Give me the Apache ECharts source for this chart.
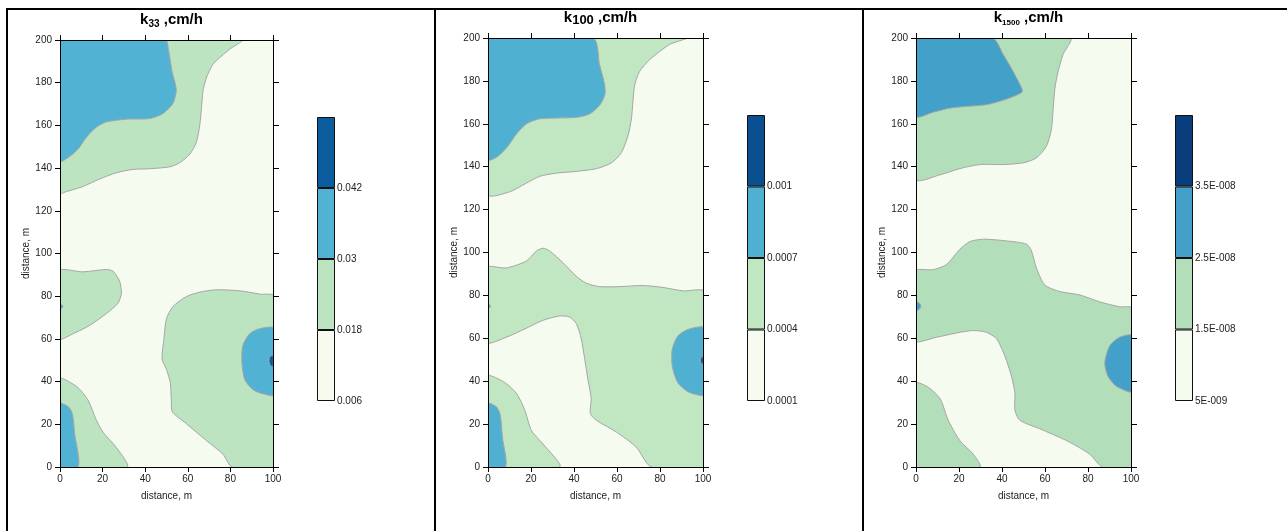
<!DOCTYPE html>
<html>
<head>
<meta charset="utf-8">
<script src="https://cdn.jsdelivr.net/npm/echarts@6/dist/echarts.min.js"></script>
<style>
html,body{margin:0;padding:0;background:#fff;}
#main{width:1287px;height:531px;}
</style>
</head>
<body>
<div id="main"></div>
<script>
// contour regions, points in metres [x, y]; corners a bit outside the plot, clipped away
// k33
var k33TopLeftGreen = [[-2,202],[85.4,200],[79.7,195.7],[71.8,188.6],[68.7,182.2],[67.1,175.9],[66.4,167.9],[65.6,160],[64,152],[60.9,146.5],[56.2,142.5],[51.5,140.6],[42.1,139.7],[34.3,139.4],[26.4,137.8],[18.6,134.9],[10.8,131.4],[3,129],[0,128.3]];
var k33TopLeftBlue = [[-2,202],[49.5,200],[51,195],[52.6,185.4],[54.6,176.7],[53,170.3],[48.4,165.6],[42.1,163.2],[31.1,162.9],[21.8,161.6],[17.1,159.2],[12.4,154.4],[8.5,148.9],[3.8,144.9],[0,143.3]];
var k33LeftGreen = [[-1,91.7],[10.8,91.4],[21.8,92.5],[24.9,91.7],[28,87],[28.8,81.4],[27.2,76.7],[21.8,71.9],[13.9,66.3],[7.7,63.2],[-1,60]];
var k33LeftBlueDot = [[0,76.6],[1.2,75.6],[1.4,75],[0,74]];
var k33BottomGreen = [[-1,41.3],[7.7,37.8],[13.1,31.4],[17.1,21.9],[20.2,16.3],[26.4,9.2],[31.5,0],[-2,-2]];
var k33BottomBlue = [[-1,29.8],[3.8,28.3],[5.8,25],[6.9,15.6],[8.5,0],[-2,-2]];
var k33RightGreen = [[101,79.8],[93.7,81],[84.4,82.5],[73.4,83],[65.6,81.9],[59.3,79.8],[53,75.1],[50,69.5],[48.8,60],[47.9,50.5],[50,45.7],[51.8,39.4],[52.3,30.6],[52.7,25.9],[59.3,20.3],[68.7,12.4],[76.5,6],[80.8,0],[102,-2]];
var k33RightBlue = [[101,64.8],[93.7,64.8],[89,62.4],[85.8,56.8],[85.4,48.9],[86.7,41],[90.6,36.2],[95.3,34.3],[101,33.8]];
var k33RightDarkDot = [[100,52.4],[98.6,51.6],[98.1,49.7],[98.6,47.8],[100,46.8]];
// k100
var k100TopLeftGreen = [[-2,202],[92.2,200],[84.5,197],[75.2,189.9],[70.5,184.4],[68.2,178],[67.4,170.2],[66.7,162.3],[65.1,154.4],[62,146.5],[57.4,141.8],[50.4,139.1],[41.1,137.8],[31.8,137],[24,135.5],[17.8,132.3],[10.1,128.3],[0,127.1]];
var k100TopLeftBlue = [[-2,202],[48.8,200],[51.9,187.5],[54.3,178],[54.3,173.3],[51.9,168.6],[47.3,164.6],[41.1,163],[33.3,162.7],[24,162.3],[17.8,159.9],[13.2,155.2],[9.3,149.6],[4.7,144.9],[0,143.3]];
var k100MiddleGreen = [[-1,92.8],[8.5,92.8],[17.8,96],[22.5,100.7],[25.6,102],[28.7,100.7],[34.9,95.2],[41.1,88.9],[45.7,85.7],[51.9,84.1],[61.2,84.1],[72.1,84.6],[81.4,83.7],[90.7,82.1],[101,81.5],[102,-2],[76,0],[69,9.2],[59.7,16.3],[50.4,21.8],[47.6,24.9],[48,32],[46.5,40.7],[45,50.2],[43.4,59.7],[41.1,66.8],[38,69.9],[33.3,70.4],[25.6,68.4],[17.8,64.7],[8.5,60.5],[-1,58.1]];
var k100BottomGreen = [[-1,42.3],[7,39.9],[13.2,34.4],[17.1,26.5],[20.2,17],[25.6,10.7],[33.3,0],[-2,-2]];
var k100BottomBlue = [[-1,29.7],[3.9,28.1],[5.7,24.2],[6.7,13.9],[8.1,0],[-2,-2]];
var k100RightBlue = [[101,64.7],[93.8,64.4],[88.4,61.2],[85.7,54.9],[85.7,47],[88.4,39.1],[93.8,34.7],[101,33.9]];
var k100RightDarkDot = [[100,51.7],[99,50.8],[98.8,49.8],[99.1,48.5],[100,47.8]];
var k100LeftBlueDot = [[0,76],[1.2,75],[0,73.6]];
// k1500
var k1500TopLeftGreen = [[-2,202],[71.8,200],[68.4,192.3],[66.1,184.4],[64.6,176.5],[63.8,167],[63,157.5],[60.7,149.6],[56,144.1],[49.8,141.8],[40.6,141],[29.7,141],[20.4,139.1],[11.1,136.2],[0,134.2]];
var k1500TopLeftBlue = [[-2,202],[35.6,200],[40.6,192.3],[45.2,184.4],[49.1,176.8],[49.4,174.9],[46.7,173.3],[40.6,171],[32.8,168.9],[23.5,168.1],[15.8,167.3],[8,165.4],[0,163.5]];
var k1500MiddleGreen = [[-1,91.2],[8,92],[14.2,94.4],[20.4,101.5],[25.1,105.1],[31.3,106.2],[42.1,105.4],[51.4,103.9],[53.7,100.7],[56,92.8],[59.9,84.9],[66.9,81.8],[76.2,80.2],[85.4,77],[94.7,74.7],[101,73.9],[102,-2],[86.7,0],[80.8,6],[70,12.3],[57.6,17.8],[48.3,21.8],[46,26.5],[46,34.4],[44.4,42.3],[41.3,51.8],[37.5,59.7],[32.8,62.8],[26.6,63.6],[18.9,62.5],[9.6,60.5],[-1,58.9]];
var k1500BottomGreen = [[-1,39.1],[5,37.6],[11.1,32],[15,21.8],[20.4,12.3],[26.6,6],[29.7,0],[-2,-2]];
var k1500RightBlue = [[101,61.2],[94.7,60.5],[90.1,56.5],[87.8,48.6],[89.3,42.3],[93.2,37.6],[101,35.2]];
var k1500LeftBlueDot = [[0,77],[1.8,76.2],[2.3,75],[1.8,73.8],[0,73]];
var k1500LeftBlueDot2 = [[0,24.8],[0.5,24],[0,23.2]];

// colour scale labels (lower edge of each band)
var k33Levels = ['0.006','0.018','0.03','0.042'];
var k100Levels = ['0.0001','0.0004','0.0007','0.001'];
var k1500Levels = ['5E-009','1.5E-008','2.5E-008','3.5E-008'];

var panels = [
    {
        title: '{b|k}{s|33}{b| ,cm/h}', sub: {fontSize: 10, lineHeight: 10}, titleTop: 6,
        grid: {left: 60, top: 40, width: 213, height: 427},
        legend: {left: 317, top: 117, width: 18, height: 284},
        colors: ['#f5fbef','#bce4c1','#52b2d3','#0a5c9c'],
        levels: k33Levels,
        layers: [
            {level: 1, pts: k33TopLeftGreen},
            {level: 2, pts: k33TopLeftBlue},
            {level: 1, pts: k33LeftGreen},
            {level: 2, pts: k33LeftBlueDot},
            {level: 1, pts: k33BottomGreen},
            {level: 2, pts: k33BottomBlue},
            {level: 1, pts: k33RightGreen},
            {level: 2, pts: k33RightBlue},
            {level: 3, pts: k33RightDarkDot}
        ]
    },
    {
        title: '{b|k}{s|100}{b| ,cm/h}', sub: {fontSize: 13, lineHeight: 14}, titleTop: 4,
        grid: {left: 488, top: 38, width: 215, height: 429},
        legend: {left: 747, top: 115, width: 18, height: 286},
        colors: ['#f5fbef','#c0e6c2','#4fb0d2','#0a4f90'],
        levels: k100Levels,
        layers: [
            {level: 1, pts: k100TopLeftGreen},
            {level: 2, pts: k100TopLeftBlue},
            {level: 1, pts: k100MiddleGreen},
            {level: 2, pts: k100LeftBlueDot},
            {level: 1, pts: k100BottomGreen},
            {level: 2, pts: k100BottomBlue},
            {level: 2, pts: k100RightBlue},
            {level: 3, pts: k100RightDarkDot}
        ]
    },
    {
        title: '{b|k}{s|1500}{b| ,cm/h}', sub: {fontSize: 8, lineHeight: 8}, titleTop: 4,
        grid: {left: 916, top: 38, width: 215, height: 429},
        legend: {left: 1175, top: 115, width: 18, height: 286},
        colors: ['#f5fbef','#b2dfb9','#43a1c9','#0a3d7d'],
        levels: k1500Levels,
        layers: [
            {level: 1, pts: k1500TopLeftGreen},
            {level: 2, pts: k1500TopLeftBlue},
            {level: 1, pts: k1500MiddleGreen},
            {level: 2, pts: k1500LeftBlueDot},
            {level: 2, pts: k1500LeftBlueDot2},
            {level: 1, pts: k1500BottomGreen},
            {level: 2, pts: k1500RightBlue}
        ]
    }
];

var FONT = 'Liberation Sans, Arial, sans-serif';
var option = {
    animation: false,
    backgroundColor: '#fff',
    title: [], grid: [], xAxis: [], yAxis: [], series: [],
    graphic: [
        {type: 'line', shape: {x1: 6, y1: 9, x2: 1287, y2: 9}, style: {stroke: '#000', lineWidth: 2}},
        {type: 'line', shape: {x1: 7, y1: 9, x2: 7, y2: 531}, style: {stroke: '#000', lineWidth: 2}},
        {type: 'line', shape: {x1: 435, y1: 9, x2: 435, y2: 531}, style: {stroke: '#000', lineWidth: 2}},
        {type: 'line', shape: {x1: 863, y1: 9, x2: 863, y2: 531}, style: {stroke: '#000', lineWidth: 2}}
    ]
};

var sideAxis = function (type, pos, gi, len) {
    return {
        type: 'value', gridIndex: gi, position: pos, z: 5,
        min: 0, max: type === 'x' ? 100 : 200, interval: 20,
        axisLine: {show: true, onZero: false, lineStyle: {color: '#000', width: 1}},
        axisTick: {show: true, length: len, lineStyle: {color: '#000'}},
        axisLabel: {show: false},
        splitLine: {show: false}
    };
};

panels.forEach(function (p, i) {
    var g = p.grid;
    option.title.push({
        text: p.title,
        left: g.left + g.width / 2, top: p.titleTop, textAlign: 'center',
        textStyle: {
            rich: {
                b: {fontSize: 15, fontWeight: 'bold', fontFamily: FONT, color: '#000', lineHeight: 18},
                s: {fontSize: p.sub.fontSize, lineHeight: p.sub.lineHeight, fontWeight: 'bold', fontFamily: FONT, color: '#000', verticalAlign: 'bottom'}
            }
        }
    });
    option.grid.push({left: g.left, top: g.top, width: g.width, height: g.height,
        show: true, backgroundColor: p.colors[0], borderWidth: 0});

    var bx = sideAxis('x', 'bottom', i, 5);
    bx.axisLabel = {show: true, fontSize: 10, color: '#222', fontFamily: FONT, margin: 7};
    bx.name = 'distance, m'; bx.nameLocation = 'middle'; bx.nameGap = 24;
    bx.nameTextStyle = {fontSize: 10, color: '#222', fontFamily: FONT};
    option.xAxis.push(bx);
    option.xAxis.push(sideAxis('x', 'top', i, 5));

    var ly = sideAxis('y', 'left', i, 5);
    ly.axisLabel = {show: true, fontSize: 10, color: '#222', fontFamily: FONT, margin: 8};
    ly.name = 'distance, m'; ly.nameLocation = 'middle'; ly.nameGap = 24;
    ly.nameTextStyle = {fontSize: 10, color: '#222', fontFamily: FONT};
    option.yAxis.push(ly);
    option.yAxis.push(sideAxis('y', 'right', i, 6));

    option.series.push({
        type: 'custom',
        xAxisIndex: i * 2, yAxisIndex: i * 2,
        clip: true, z: 2,
        data: p.layers.map(function (l, k) { return [k, 0]; }),
        renderItem: function (params, api) {
            var layer = p.layers[params.dataIndex];
            var pts = layer.pts.map(function (pt) { return api.coord(pt); });
            return {
                type: 'polygon',
                shape: {points: pts, smooth: 0.25},
                style: {fill: p.colors[layer.level], stroke: '#a6a6a6', lineWidth: 1}
            };
        }
    });
});

// colour scale bars
panels.forEach(function (p, i) {
    var gi = panels.length + i;
    var lg = p.legend;
    option.grid.push({left: lg.left, top: lg.top, width: lg.width, height: lg.height});
    option.xAxis.push({type: 'category', gridIndex: gi, data: ['k'], show: false});
    option.yAxis.push({
        type: 'value', gridIndex: gi, position: 'right', min: 0, max: 4, interval: 1,
        axisLine: {show: false}, axisTick: {show: false}, splitLine: {show: false},
        axisLabel: {
            show: true, margin: 2, fontSize: 10, color: '#222', fontFamily: FONT,
            formatter: function (v) { return p.levels[v] || ''; }
        }
    });
    p.colors.forEach(function (c, k) {
        option.series.push({
            type: 'bar', xAxisIndex: panels.length * 2 + i, yAxisIndex: panels.length * 2 + i,
            stack: 'scale' + i, barWidth: '100%', data: [1],
            itemStyle: {color: c, borderColor: '#111', borderWidth: 1}
        });
    });
});

var chart = echarts.init(document.getElementById('main'));
chart.setOption(option);
</script>
</body>
</html>
